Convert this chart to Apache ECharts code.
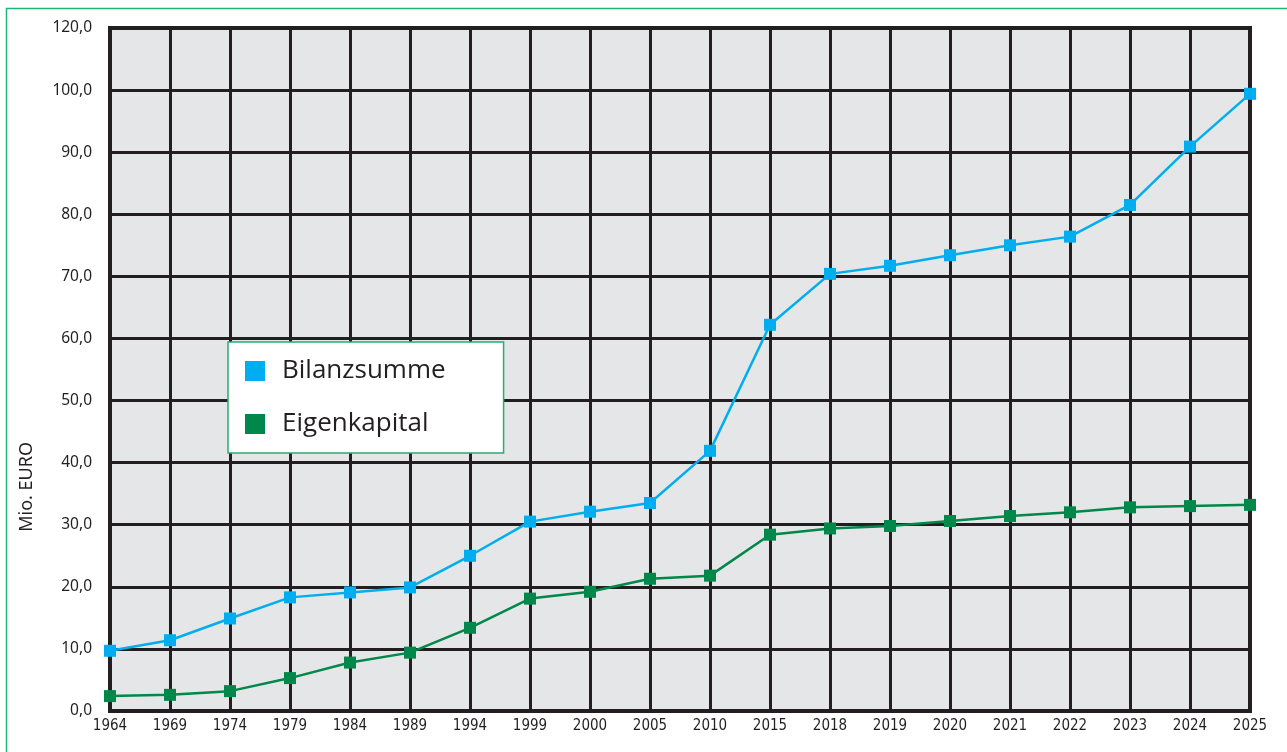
<!DOCTYPE html>
<html>
<head>
  <meta charset="utf-8">
  <script src="https://cdn.jsdelivr.net/npm/echarts@6/dist/echarts.min.js"></script>
  <style>
    html, body { margin: 0; padding: 0; background: #fff; }
  </style>
  <title>Bilanzsumme und Eigenkapital</title>
  <script type="text/javascript">

    // years on the x axis
    const years = ['1964', '1969', '1974', '1979', '1984', '1989', '1994', '1999', '2000', '2005',
                   '2010', '2015', '2018', '2019', '2020', '2021', '2022', '2023', '2024', '2025'];
    // Mio. EURO
    const bilanzsumme = [9.7, 11.4, 14.9, 18.3, 19.1, 19.9, 25.0, 30.5, 32.1, 33.5,
                         41.9, 62.2, 70.4, 71.7, 73.4, 75.0, 76.4, 81.5, 90.9, 99.4];
    const eigenkapital = [2.4, 2.6, 3.2, 5.3, 7.8, 9.4, 13.4, 18.1, 19.2, 21.3,
                          21.8, 28.4, 29.4, 29.8, 30.6, 31.4, 32.0, 32.8, 33.0, 33.2];
    const seriesNames = ['Bilanzsumme', 'Eigenkapital'];

    function init() {
      chart = echarts.init(document.getElementById('main'));
      chart.setOption({
        animation: false,
        grid: { left: 110, right: 37, top: 28, bottom: 41, show: true,
                backgroundColor: '#e5e6e8', borderColor: '#231f20', borderWidth: 4 },
        graphic: [
          { type: 'rect', left: 4, top: 6, shape: { width: 1400, height: 800 },
            style: { fill: 'none', stroke: '#1fb573', lineWidth: 1.5 }, silent: true },
          { type: 'text', left: 18, top: 442, rotation: Math.PI / 2,
            style: { text: 'Mio. EURO', font: '18px "Noto Sans"', fill: '#231f20' } }
        ],
        legend: {
          orient: 'vertical', left: 228, top: 342,
          padding: [16, 58, 16, 17],
          backgroundColor: '#fff', borderColor: '#2eaa73', borderWidth: 1.5,
          itemWidth: 20, itemHeight: 20, itemGap: 27,
          icon: 'rect',
          textStyle: { fontFamily: 'Open Sans', fontSize: 26, color: '#231f20',
                       fontWeight: 400, padding: [0, 0, 0, 12] },
          data: seriesNames
        },
        xAxis: {
          type: 'category', data: years, boundaryGap: false,
          axisLine: { show: false }, axisTick: { show: false },
          splitLine: { show: true, lineStyle: { color: '#231f20', width: 3 } },
          axisLabel: { fontFamily: 'DejaVu Sans Condensed', fontSize: 15, fontWeight: 500,
                       color: '#231f20', margin: 8, interval: 0 }
        },
        yAxis: {
          type: 'value', min: 0, max: 110, interval: 10,
          axisLine: { show: false }, axisTick: { show: false },
          splitLine: { lineStyle: { color: '#231f20', width: 3 } },
          axisLabel: { fontFamily: 'Noto Sans', fontSize: 15.5, color: '#231f20', margin: 18,
                       formatter: v => (v === 110 ? 120 : v).toFixed(1).replace('.', ',') }
        },
        series: [
          { name: seriesNames[0], type: 'line', data: bilanzsumme, color: '#00aeef',
            symbol: 'rect', symbolSize: 12, lineStyle: { width: 2.5 } },
          { name: seriesNames[1], type: 'line', data: eigenkapital, color: '#00874a',
            symbol: 'rect', symbolSize: 12, lineStyle: { width: 2.5 } }
        ]
      });
    }
  </script>
</head>
<body onload="init()">
  <div id="main" style="width: 1287px; height: 752px;"></div>
</body>
</html>
